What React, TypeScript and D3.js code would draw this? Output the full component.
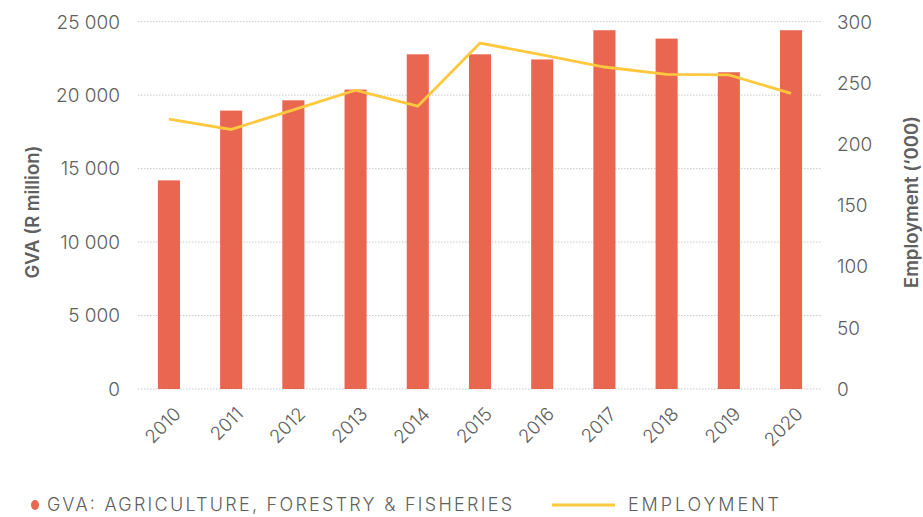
import React from "react";
import * as d3 from "d3";

const years = ["2010","2011","2012","2013","2014","2015","2016","2017","2018","2019","2020"];
const gva = [14200, 18950, 19650, 20380, 22780, 22780, 22430, 24420, 23850, 21560, 24420];
const employment = [220.5, 212, 228, 244, 231, 282.5, 273, 263, 257, 256.5, 241.5];
const leftTicks = [0, 5000, 10000, 15000, 20000, 25000];
const rightTicks = [0, 50, 100, 150, 200, 250, 300];

const W = 923, H = 517;
const FONT = "Inter, 'Open Sans', sans-serif";
const GREY = "#606060";

export default function App() {
  const x = d3.scaleBand<string>().domain(years).range([138, 822]).paddingInner(0.645).paddingOuter(0.32);
  const yL = d3.scaleLinear().domain([0, 25000]).range([389, 21.7]);
  const yR = d3.scaleLinear().domain([0, 300]).range([389, 21.7]);
  const fmt = (v: number) => d3.format(",")(v).replace(/,/g, " ");
  const line = d3.line<number>()
    .x((_, i) => (x(years[i]) as number) + x.bandwidth() / 2)
    .y((d) => yR(d));

  return (
    <svg width={W} height={H} style={{ position: "absolute", left: 0, top: 0, background: "#fff" }}>
      {leftTicks.map((t) => (
        <g key={"g" + t}>
          <line x1={138} x2={822} y1={yL(t)} y2={yL(t)} stroke="#c8c8c8" strokeWidth={1} strokeDasharray="1.5 1.5" />
          <text x={120} y={yL(t)} dy="0.36em" textAnchor="end" fontFamily={FONT} fontSize={19} fontWeight={300} fill={GREY}>{fmt(t)}</text>
        </g>
      ))}
      {rightTicks.map((t) => (
        <text key={"r" + t} x={837} y={yR(t)} dy="0.36em" textAnchor="start" fontFamily={FONT} fontSize={19} fontWeight={300} fill={GREY}>{t}</text>
      ))}
      {years.map((yr, i) => (
        <rect key={yr} x={x(yr)} y={yL(gva[i])} width={x.bandwidth()} height={389 - yL(gva[i])} fill="#E96651" />
      ))}
      <path d={line(employment) || ""} fill="none" stroke="#FFC83D" strokeWidth={2.8} />
      {years.map((yr) => {
        const cx = (x(yr) as number) + x.bandwidth() / 2 + 4;
        return (
          <text key={"x" + yr} transform={`translate(${cx},${406}) rotate(-45)`} textAnchor="end" dy="0.7em" fontFamily={FONT} fontSize={18.5} fontWeight={300} fill={GREY}>{yr}</text>
        );
      })}
      <text transform={`translate(32,212) rotate(-90)`} textAnchor="middle" dy="0.36em" fontFamily={FONT} fontSize={18.5} fontWeight={600} fill={GREY}>GVA (R million)</text>
      <text transform={`translate(911,202) rotate(-90)`} textAnchor="middle" dy="0.36em" fontFamily={FONT} fontSize={18.5} fontWeight={600} fill={GREY}>Employment (‘000)</text>
      <ellipse cx={35} cy={505} rx={4} ry={5} fill="#E96651" />
      <text x={47} y={505} dy="0.36em" fontFamily={FONT} fontSize={18} fontWeight={300} fill={GREY} textLength={465}>GVA: AGRICULTURE, FORESTRY &amp; FISHERIES</text>
      <line x1={552} x2={615} y1={505} y2={505} stroke="#FFC83D" strokeWidth={2.8} />
      <text x={628} y={505} dy="0.36em" fontFamily={FONT} fontSize={18} fontWeight={300} fill={GREY} textLength={151}>EMPLOYMENT</text>
    </svg>
  );
}
